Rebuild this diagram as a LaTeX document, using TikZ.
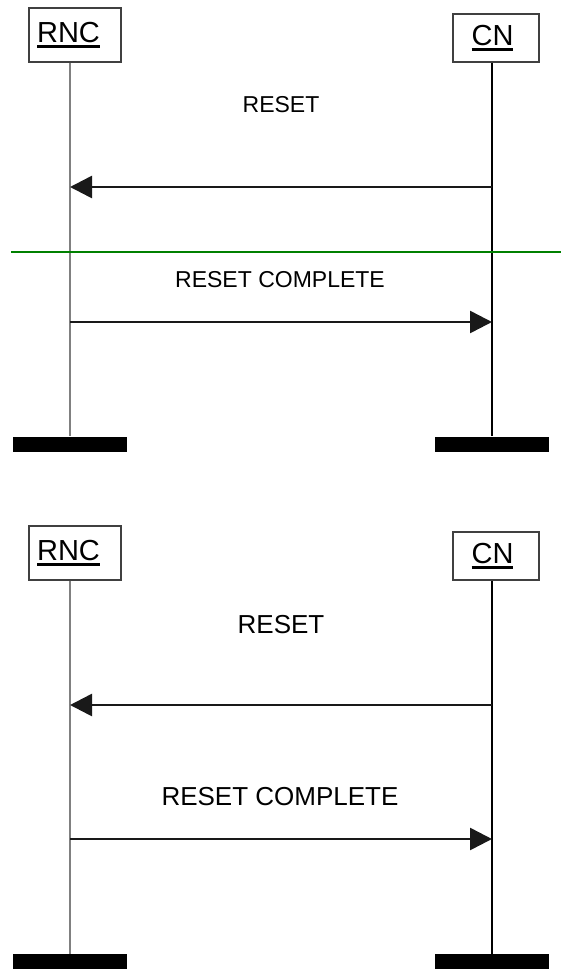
\documentclass[tikz,border=0pt]{standalone}
\usepackage{fontspec}
\setmainfont{Liberation Sans}
\usetikzlibrary{positioning,arrows.meta}
\newcommand{\entname}[1]{\vtop{\hbox{#1}\kern2.5pt\hrule height 2.4pt}}
\tikzset{
  entity/.style={draw=black!75, line width=1.1pt, fill=white, inner sep=0pt,
    font=\fontsize{29}{31}\selectfont},
  rnclife/.style={line width=1.3pt, black!50},
  cnlife/.style={line width=1.1pt, black},
  endbar/.style={fill=black, inner sep=0pt, minimum width=114pt, minimum height=15pt},
  msg/.style={-{Triangle[length=22pt, width=22pt]}, line width=2.6pt, black!90},
  msglabel/.style={inner sep=0pt, font=\fontsize{23}{25}\selectfont},
  msgbig/.style={inner sep=0pt, font=\fontsize{26}{28}\selectfont},
  separator/.style={line width=1.6pt, green!50!black},
}

\begin{document}
\begin{tikzpicture}[x=1pt, y=1pt]
  \useasboundingbox (0,0) rectangle (561,-969);
  % upper chart
  \node[entity, minimum width=92pt, minimum height=54pt] (rncA) at (75,-35) {\entname{RNC}\hspace*{13pt}};
  \node[entity, minimum width=86pt, minimum height=48pt] (cnA) at (496,-38) {\entname{CN}\hspace*{7pt}};
  \node[endbar] (rncEndA) at (70,-444) {};
  \node[endbar] (cnEndA) at (492,-444) {};
  \draw[rnclife] (rncEndA.north |- rncA.south) -- (rncEndA.north);
  \draw[cnlife] (cnEndA.north |- cnA.south) -- (cnEndA.north);
  \coordinate (rA1) at (70,-187);
  \coordinate (cA1) at (492,-187);
  \draw[msg] (cA1) -- (rA1);
  \node[msglabel] (resetA) at (281,-105) {RESET};
  \coordinate (sepL) at (11,-252);
  \coordinate (sepR) at (561,-252);
  \draw[separator] (sepL) -- (sepR);
  \coordinate (rA2) at (70,-322);
  \coordinate (cA2) at (492,-322);
  \draw[msg] (rA2) -- (cA2);
  \node[msglabel] (completeA) at (280,-280) {RESET COMPLETE};
  % lower chart
  \node[entity, minimum width=92pt, minimum height=54pt] (rncB) at (75,-553) {\entname{RNC}\hspace*{13pt}};
  \node[entity, minimum width=86pt, minimum height=48pt] (cnB) at (496,-556) {\entname{CN}\hspace*{7pt}};
  \node[endbar] (rncEndB) at (70,-961.5) {};
  \node[endbar] (cnEndB) at (492,-961.5) {};
  \draw[rnclife] (rncEndB.north |- rncB.south) -- (rncEndB.north);
  \draw[cnlife] (cnEndB.north |- cnB.south) -- (cnEndB.north);
  \coordinate (rB1) at (70,-705);
  \coordinate (cB1) at (492,-705);
  \draw[msg] (cB1) -- (rB1);
  \node[msgbig] (resetB) at (281,-625) {RESET};
  \coordinate (rB2) at (70,-839);
  \coordinate (cB2) at (492,-839);
  \draw[msg] (rB2) -- (cB2);
  \node[msgbig] (completeB) at (280,-797) {RESET COMPLETE};
\end{tikzpicture}
\end{document}
